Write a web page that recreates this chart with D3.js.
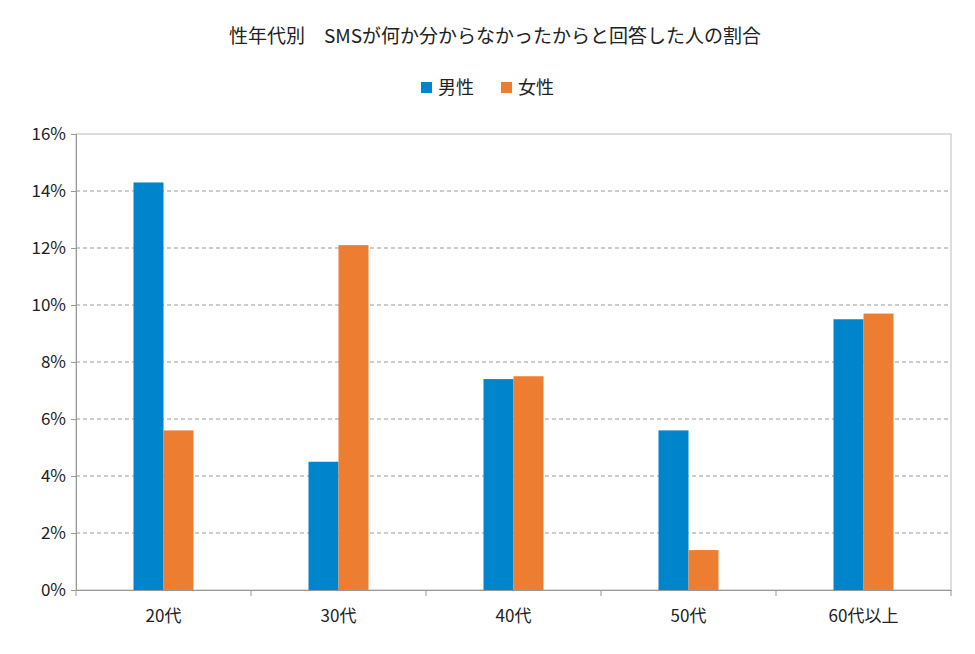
<!DOCTYPE html>
<html>
<head>
<meta charset="utf-8">
<script src="https://cdn.jsdelivr.net/npm/d3@7"></script>
<style>
  body { margin: 0; background: #fff; }
  text { font-family: "Noto Sans CJK JP", "Noto Sans", sans-serif; fill: #222; }
</style>
</head>
<body>
<svg id="chart" width="975" height="654"></svg>
<script>
"use strict";

var categories = ["20代", "30代", "40代", "50代", "60代以上"];
var seriesNames = ["男性", "女性"];
var male = [14.3, 4.5, 7.4, 5.6, 9.5];
var female = [5.6, 12.1, 7.5, 1.4, 9.7];
var yTicks = [0, 2, 4, 6, 8, 10, 12, 14, 16];
var colors = ["#0085cc", "#ed7d31"];

(function () {

    var svg = d3.select("#chart"),
        plotLeft = 76, plotRight = 951, plotTop = 134, plotBottom = 590;

    var x0 = d3.scaleBand().domain(categories).range([plotLeft, plotRight]).padding(0);
    var x1 = d3.scaleBand().domain(seriesNames).range([0, x0.bandwidth()])
        .paddingInner(0).paddingOuter((x0.bandwidth() - 60) / 2 / 30);
    var y = d3.scaleLinear().domain([0, 16]).range([plotBottom, plotTop]);

    // gridlines
    svg.append("g").selectAll("line")
        .data(yTicks.filter(function (d) { return d > 0 && d < 16; }))
        .join("line")
        .attr("x1", plotLeft).attr("x2", plotRight)
        .attr("y1", function (d) { return y(d); }).attr("y2", function (d) { return y(d); })
        .attr("stroke", "#999").attr("stroke-dasharray", "4,3");

    // plot border
    svg.append("rect")
        .attr("x", plotLeft).attr("y", plotTop)
        .attr("width", plotRight - plotLeft).attr("height", plotBottom - plotTop)
        .attr("fill", "none").attr("stroke", "#bbb");

    // bars
    var values = [male, female];
    var groups = svg.append("g").selectAll("g")
        .data(categories)
        .join("g")
        .attr("transform", function (d) { return "translate(" + x0(d) + ",0)"; });
    groups.selectAll("rect")
        .data(function (d, i) {
            return seriesNames.map(function (s, j) { return { s: s, v: values[j][i], c: colors[j] }; });
        })
        .join("rect")
        .attr("x", function (d) { return x1(d.s); })
        .attr("width", x1.bandwidth())
        .attr("y", function (d) { return y(d.v); })
        .attr("height", function (d) { return plotBottom - y(d.v); })
        .attr("fill", function (d) { return d.c; });

    // y axis
    var yAxis = svg.append("g").attr("transform", "translate(" + plotLeft + ",0)")
        .call(d3.axisLeft(y).tickValues(yTicks).tickSize(5).tickFormat(function (d) { return d + "%"; }));
    yAxis.select(".domain").attr("stroke", "#999");
    yAxis.selectAll(".tick line").attr("stroke", "#999");
    yAxis.selectAll("text").attr("font-size", 17).attr("dx", -2);

    // x axis
    var xAxis = svg.append("g").attr("transform", "translate(0," + plotBottom + ")")
        .call(d3.axisBottom(x0).tickSize(0).tickPadding(20));
    xAxis.select(".domain").attr("stroke", "#999");
    xAxis.selectAll("text").attr("font-size", 17);
    svg.append("g").selectAll("line")
        .data(categories.concat([null]))
        .join("line")
        .attr("x1", function (d) { return d === null ? plotRight : x0(d); })
        .attr("x2", function (d) { return d === null ? plotRight : x0(d); })
        .attr("y1", plotBottom).attr("y2", plotBottom + 6)
        .attr("stroke", "#999");

    // title
    svg.append("text").attr("x", 495).attr("y", 43).attr("text-anchor", "middle")
        .attr("font-size", 19).text("性年代別　SMSが何か分からなかったからと回答した人の割合");

    // legend
    var legend = svg.append("g").selectAll("g")
        .data(seriesNames)
        .join("g")
        .attr("transform", function (d, i) { return "translate(" + (421 + i * 80) + ",82)"; });
    legend.append("rect").attr("width", 11).attr("height", 11)
        .attr("fill", function (d, i) { return colors[i]; });
    legend.append("text").attr("x", 17).attr("y", 12).attr("font-size", 18)
        .text(function (d) { return d; });

})();
</script>
</body>
</html>
